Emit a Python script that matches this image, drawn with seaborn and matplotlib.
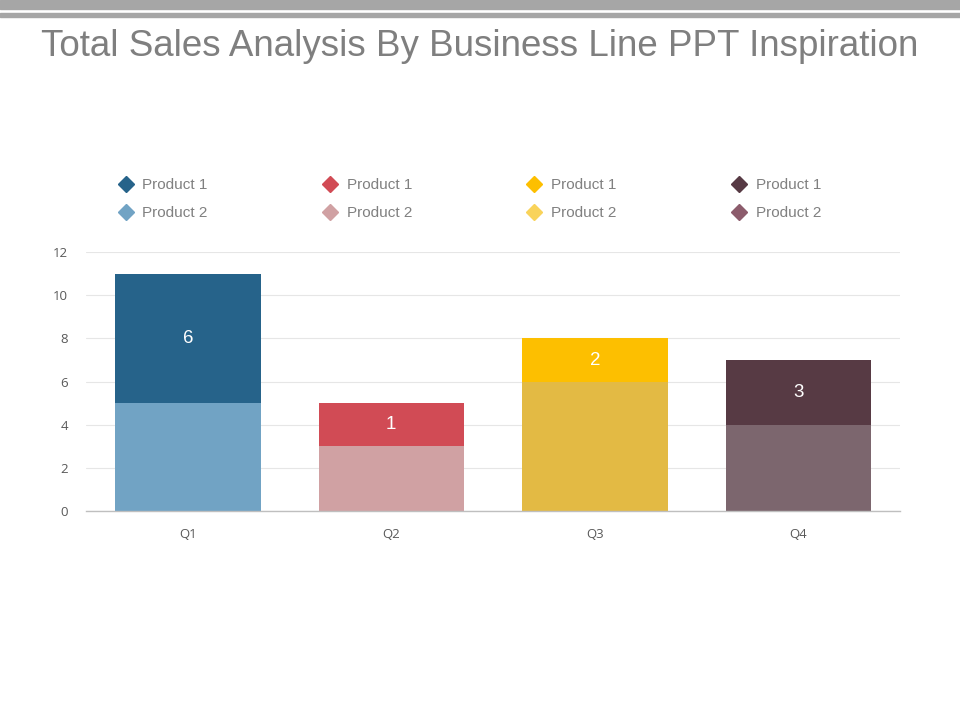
import pandas as pd
import matplotlib.pyplot as plt
import seaborn as sns
from matplotlib.lines import Line2D

# chart values
quarters = ['Q1', 'Q2', 'Q3', 'Q4']
product2 = [5, 3, 6, 4]        # lower segment
product1 = [6, 2, 2, 3]        # upper segment
top_labels = ['6', '1', '2', '3']
y_ticks = [0, 2, 4, 6, 8, 10, 12]

top_colors = ['#26638a', '#d14b55', '#fdbf00', '#573a44']
base_colors = ['#71a3c4', '#d0a1a3', '#e3ba44', '#7c666e']
legend_p2_colors = ['#71a3c4', '#d0a1a3', '#f9d35a', '#8c5c6c']

sns.set_theme(style='white')
plt.rcParams['font.family'] = ['Liberation Sans', 'DejaVu Sans']

df = pd.DataFrame({'quarter': quarters, 'base': product2, 'top': product1})
df['total'] = df['base'] + df['top']

fig = plt.figure(figsize=(9.6, 7.2), dpi=100)
ax = fig.add_axes([0.0896, 0.290, 0.8479, 0.360])

# stacked bars: draw the total in the top colour, then the base over it
sns.barplot(data=df, x='quarter', y='total', hue='quarter', palette=top_colors,
            width=0.715, legend=False, ax=ax, saturation=1, linewidth=0)
sns.barplot(data=df, x='quarter', y='base', hue='quarter', palette=base_colors,
            width=0.715, legend=False, ax=ax, saturation=1, linewidth=0)

for i, row in df.iterrows():
    ax.text(i, row['base'] + row['top'] / 2, top_labels[i], ha='center', va='center',
            color='white', fontsize=13.5)

ax.set_xlim(-0.5, 3.5)
ax.set_ylim(0, 12)
ax.set_yticks(y_ticks)
ax.yaxis.grid(True, color='#e6e6e6', linewidth=0.8)
ax.set_axisbelow(True)
ax.set_xlabel('')
ax.set_ylabel('')
for s in ['top', 'right', 'left']:
    ax.spines[s].set_visible(False)
ax.spines['bottom'].set_color('#bfbfbf')
ax.spines['bottom'].set_linewidth(1)
ax.tick_params(axis='both', length=0, labelsize=9.5, labelcolor='#595959')
ax.tick_params(axis='y', pad=13)
ax.tick_params(axis='x', pad=12)
for lab in ax.get_xticklabels() + ax.get_yticklabels():
    lab.set_family(['Open Sans', 'DejaVu Sans'])

# legend
handles = []
labels = []
for c1, c2 in zip(top_colors, legend_p2_colors):
    handles.append(Line2D([], [], marker='D', linestyle='', color=c1, markersize=8))
    labels.append('Product 1')
    handles.append(Line2D([], [], marker='D', linestyle='', color=c2, markersize=8))
    labels.append('Product 2')
fig.legend(handles, labels, ncol=4, loc='center left', bbox_to_anchor=(0.1165, 0.7236),
           frameon=False, fontsize=11, labelcolor='#808080', handlelength=1,
           handletextpad=0.6, columnspacing=7.5, labelspacing=0.9, borderaxespad=0)

# header bars and title
fig.patches.append(plt.Rectangle((0, 1 - 9 / 720), 1, 9 / 720, transform=fig.transFigure,
                                 color='#a6a6a6', zorder=0))
fig.patches.append(plt.Rectangle((0, 1 - 17 / 720), 1, 4 / 720, transform=fig.transFigure,
                                 color='#a6a6a6', zorder=0))
fig.text(0.5, 1 - 47 / 720, 'Total Sales Analysis By Business Line PPT Inspiration',
         ha='center', va='center', fontsize=26.5, color='#7f7f7f')

fig.savefig('out.png', dpi=100)
